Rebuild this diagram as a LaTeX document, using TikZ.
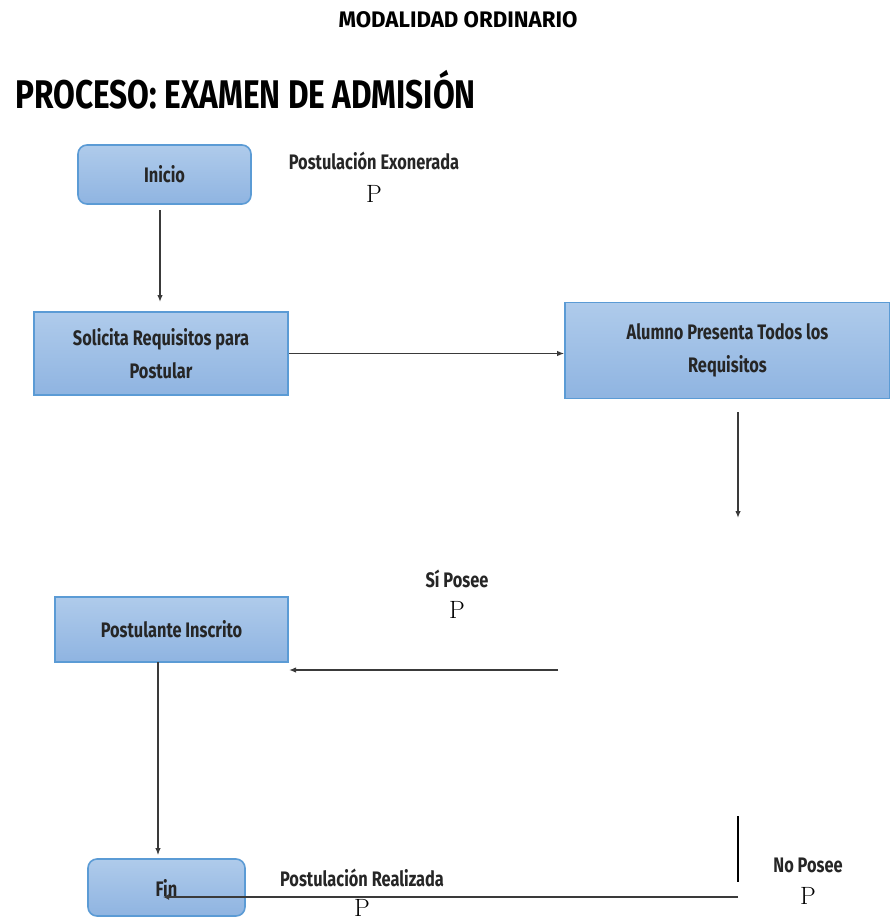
\documentclass[tikz,border=0pt]{standalone}
\usepackage{fontspec}
\newfontfamily\condf[FakeStretch=0.78]{Fira Sans}
\newfontfamily\headf[FakeStretch=0.79]{Fira Sans}
\newfontfamily\subf[FakeStretch=0.99]{Fira Sans}
\usetikzlibrary{arrows.meta}
\definecolor{boxtop}{HTML}{AFCBEB}
\definecolor{boxbot}{HTML}{8FB4E1}
\definecolor{boxline}{HTML}{5B9BD5}
\definecolor{inkgray}{HTML}{3A3A3A}
\tikzset{
  stepbox/.style={draw=boxline, line width=1.6pt, top color=boxtop, bottom color=boxbot,
    align=center, font=\condf\bfseries\fontsize{21}{33}\selectfont, text=black!85, inner sep=0pt},
  roundbox/.style={stepbox, rounded corners=9pt},
  lbl/.style={font=\condf\bfseries\fontsize{21}{24}\selectfont, text=black!85, inner sep=0pt},
  pmark/.style={font=\fontsize{25}{27}\selectfont, inner sep=0pt},
  flow/.style={draw=inkgray, line width=1.4pt, -{Latex[length=7pt,width=5.5pt]}},
}
\begin{document}
\begin{tikzpicture}[x=1pt,y=-1pt]
\useasboundingbox (0,0) rectangle (890,921);
\fill[white] (0,0) rectangle (890,921);

% headings
\node[font=\subf\bfseries\fontsize{22.5}{24}\selectfont, inner sep=0pt] (sub) at (458,20) {MODALIDAD ORDINARIO};
\node[font=\headf\bfseries\fontsize{40}{42}\selectfont, inner sep=0pt, anchor=west] (title) at (15,90) {PROCESO: EXAMEN DE ADMISIÓN};

% process boxes
\node[roundbox, minimum width=173pt, minimum height=59pt] (inicio) at (164.5,174.5) {Inicio};
\node[stepbox, minimum width=254pt, minimum height=83pt] (solicita) at (161,353.5) {Solicita Requisitos para\\Postular};
\node[stepbox, minimum width=325pt, minimum height=96pt] (alumno) at (727.5,350.5) {Alumno Presenta Todos los\\Requisitos};
\node[stepbox, minimum width=233pt, minimum height=65pt] (inscrito) at (171.5,629.5) {Postulante Inscrito};
\node[roundbox, minimum width=157pt, minimum height=57pt] (fin) at (166.5,887.5) {Fin};

% labels
\node[lbl] (exo) at (374,161) {Postulación Exonerada};
\node[pmark] (exop) at (374,194) {P};
\node[lbl] (si) at (457,579) {Sí Posee};
\node[pmark] (sip) at (457,610) {P};
\node[lbl] (real) at (362,878) {Postulación Realizada};
\node[pmark] (realp) at (362,908) {P};
\node[lbl] (no) at (808,865) {No Posee};
\node[pmark] (nop) at (808,896) {P};

% free line ends
\coordinate (a1) at (160,210);
\coordinate (a2) at (160,302);
\coordinate (d1) at (738,412);
\coordinate (d2) at (738,518);
\coordinate (s1) at (558,670);
\coordinate (s2) at (289,670);
\coordinate (p1) at (158,662);
\coordinate (p2) at (158,855);
\coordinate (v1) at (738,816);
\coordinate (v2) at (738,882);
\coordinate (n1) at (738,897);
\coordinate (n2) at (163,897);

% connectors
\draw[flow] (a1) -- (a2);
\draw[flow] (solicita.east) -- (solicita.east -| alumno.west);
\draw[flow] (d1) -- (d2);
\draw[flow, line width=1.8pt] (s1) -- (s2);
\draw[flow, line width=1.1pt] (p1) -- (p2);
\draw[line width=2.6pt, black] (v1) -- (v2);
\draw[flow, line width=2.6pt, -{Latex[length=6pt,width=6pt]}] (n1) -- (n2);
\end{tikzpicture}
\end{document}
